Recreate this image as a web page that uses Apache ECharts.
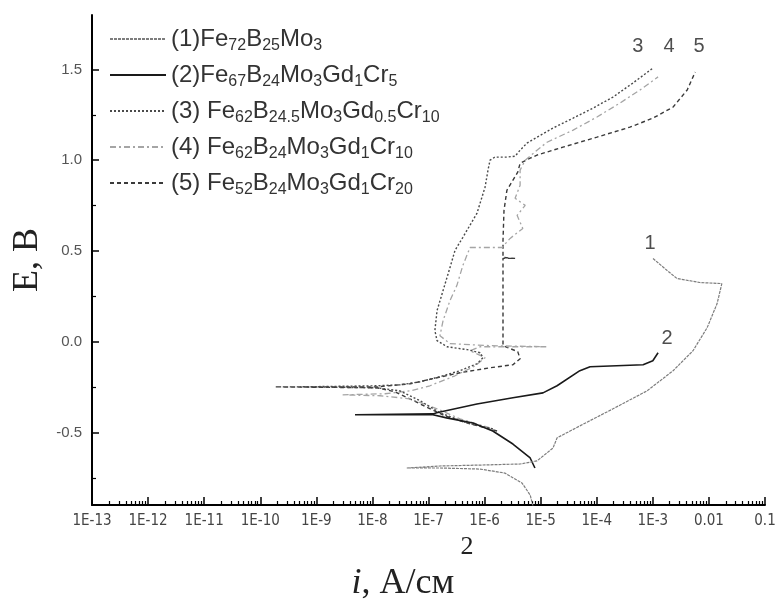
<!DOCTYPE html>
<html><head><meta charset="utf-8">
<script src="https://cdn.jsdelivr.net/npm/echarts@6/dist/echarts.min.js"></script>
<style>html,body{margin:0;padding:0;background:#fff}#c{width:778px;height:600px}</style>
</head><body><div id="c"></div>
<script>
// ---- axis ticks ----
const xTickExponents = [-13,-12,-11,-10,-9,-8,-7,-6,-5,-4,-3,-2,-1];
const xTickLabels = ['1E-13','1E-12','1E-11','1E-10','1E-9','1E-8','1E-7','1E-6','1E-5','1E-4','1E-3','0.01','0.1'];
const yTickValues = [-0.5, 0, 0.5, 1.0, 1.5];
const yTickLabels = ['-0.5','0.0','0.5','1.0','1.5'];
const yMinorTicks = [-0.75, -0.25, 0.25, 0.75, 1.25];

// ---- series names ----
const seriesNames = ['(1)Fe72B25Mo3','(2)Fe67B24Mo3Gd1Cr5','(3) Fe62B24.5Mo3Gd0.5Cr10','(4) Fe62B24Mo3Gd1Cr10','(5) Fe52B24Mo3Gd1Cr20'];
const legendRich = [
  '(1)Fe{s|72}B{s|25}Mo{s|3}',
  '(2)Fe{s|67}B{s|24}Mo{s|3}Gd{s|1}Cr{s|5}',
  '(3) Fe{s|62}B{s|24.5}Mo{s|3}Gd{s|0.5}Cr{s|10}',
  '(4) Fe{s|62}B{s|24}Mo{s|3}Gd{s|1}Cr{s|10}',
  '(5) Fe{s|52}B{s|24}Mo{s|3}Gd{s|1}Cr{s|20}'
];

// ---- curve 1 : current density (A/cm2), potential (V) ----
const c1_i = [7.3e-6,6.5e-6,4.65e-6,2.3e-6,8.3e-7,1.6e-7,4.1e-8,1.6e-7,8.3e-7,4.3e-6,8.6e-6,1.66e-5,1.96e-5,5.0e-5,1.95e-4,7.9e-4,2.3e-3,5.2e-3,9.3e-3,1.4e-2,1.7e-2,6.9e-3,2.7e-3,1.8e-3,1.0e-3];
const c1_E = [-0.906,-0.845,-0.779,-0.724,-0.702,-0.696,-0.696,-0.685,-0.680,-0.674,-0.657,-0.586,-0.530,-0.464,-0.370,-0.271,-0.160,-0.050,0.077,0.210,0.320,0.326,0.348,0.392,0.459];

// ---- curve 2 ----
const c2_i = [7.9e-6,6.5e-6,3.2e-6,1.4e-6,6.2e-7,2.1e-7,1.2e-7,4.9e-9,1.2e-7,1.4e-7,7.3e-7,3.2e-6,1.1e-5,1.96e-5,5.0e-5,7.6e-5,6.7e-4,1.0e-3,1.24e-3];
const c2_E = [-0.696,-0.641,-0.564,-0.492,-0.448,-0.420,-0.403,-0.403,-0.398,-0.392,-0.343,-0.309,-0.282,-0.243,-0.160,-0.138,-0.127,-0.105,-0.061];

// ---- curve 3 ----
const c3_i = [1.41e-6,4.9e-7,1.6e-7,7.1e-8,3.1e-8,1.21e-8,5.1e-10,1.21e-8,3.1e-8,7.1e-8,1.6e-7,3.65e-7,7.3e-7,9.4e-7,8.3e-7,4.9e-7,2.14e-7,1.42e-7,1.3e-7,1.42e-7,1.82e-7,2.42e-7,2.97e-7,4.1e-7,7.3e-7,1.02e-6,1.15e-6,1.25e-6,1.53e-6,2.5e-6,3.5e-6,4.3e-6,5.7e-6,8.6e-6,1.66e-5,3.8e-5,8.6e-5,1.95e-4,4.4e-4,1.01e-3];
const c3_E = [-0.481,-0.448,-0.392,-0.326,-0.271,-0.254,-0.249,-0.243,-0.238,-0.221,-0.193,-0.160,-0.122,-0.088,-0.061,-0.044,-0.028,0.006,0.061,0.171,0.282,0.409,0.503,0.575,0.707,0.851,0.945,1.000,1.017,1.017,1.022,1.055,1.094,1.127,1.177,1.232,1.287,1.348,1.425,1.508];

// ---- curve 4 ----
const c4_i = [1.25e-6,3.65e-7,1.42e-7,4.7e-8,1.37e-8,2.87e-9,1.68e-8,4.7e-8,1.06e-7,2.97e-7,6.8e-7,1.02e-6,5.5e-7,8.3e-7,1.3e-5,1.25e-6,2.42e-7,1.6e-7,1.82e-7,2.42e-7,3.2e-7,4.1e-7,5.5e-7,2.05e-6,2.85e-6,4.8e-6,3.8e-6,5.3e-6,3.5e-6,4.3e-6,4.3e-6,5.3e-6,8.6e-6,1.3e-5,3.8e-5,1.01e-4,2.6e-4,5.9e-4,1.24e-3];
const c4_E = [-0.475,-0.425,-0.370,-0.315,-0.298,-0.293,-0.287,-0.271,-0.243,-0.188,-0.133,-0.088,-0.050,-0.028,-0.028,-0.022,-0.011,0.033,0.116,0.227,0.309,0.420,0.519,0.519,0.569,0.624,0.696,0.751,0.790,0.862,0.945,1.000,1.055,1.099,1.166,1.238,1.315,1.387,1.459];

// ---- curve 5 ----
const c5_i = [1.67e-6,5.5e-7,1.97e-7,7.1e-8,2.5e-8,1.21e-8,1.83e-10,1.21e-8,4.7e-8,1.2e-7,3.65e-7,1.25e-6,3.2e-6,4.3e-6,3.9e-6,2.13e-6,2.13e-6,2.13e-6,2.13e-6,3.5e-6,2.13e-6,2.13e-6,2.22e-6,2.5e-6,3.9e-6,4.3e-6,6.5e-6,8.6e-6,2.5e-5,1.01e-4,3.9e-4,1.01e-3,2.3e-3,4.1e-3,5.7e-3];
const c5_E = [-0.492,-0.453,-0.409,-0.343,-0.276,-0.254,-0.249,-0.249,-0.232,-0.204,-0.171,-0.144,-0.127,-0.094,-0.055,-0.022,0.061,0.227,0.459,0.459,0.464,0.558,0.724,0.834,0.934,0.983,1.011,1.028,1.072,1.127,1.182,1.232,1.293,1.387,1.486];

// ---- curve number annotations ----
const curveLabels = ['1','2','3','4','5'];
const curveLabel_i = [8.9e-4, 1.8e-3, 5.4e-4, 1.95e-3, 6.7e-3];
const curveLabel_E = [0.541, 0.017, 1.624, 1.624, 1.624];

const toXY = (I, E) => I.map((v, k) => [Math.log10(v), E[k]]);

const xMinor = [];
for (let d = -13; d <= -2; d++) for (let k = 2; k <= 9; k++) xMinor.push(d + Math.log10(k));

const sans = "'Liberation Sans', Arial, sans-serif";
const narrow = "'Liberation Sans Narrow', 'Arial Narrow', 'DejaVu Sans Condensed', sans-serif";
const serif = "'Liberation Serif', 'Times New Roman', serif";

const styles = [
  {color: '#7d7d7d', width: 1.2, type: [3, 1]},
  {color: '#1a1a1a', width: 1.6, type: 'solid'},
  {color: '#4a4a4a', width: 1.4, type: [2, 2]},
  {color: '#a5a5a5', width: 1.3, type: [6, 3, 2, 3]},
  {color: '#3a3a3a', width: 1.4, type: [4, 3]}
];
const datas = [toXY(c1_i, c1_E), toXY(c2_i, c2_E), toXY(c3_i, c3_E), toXY(c4_i, c4_E), toXY(c5_i, c5_E)];

const series = seriesNames.map((n, k) => ({
  name: n, type: 'line', data: datas[k], symbol: 'none', showSymbol: false,
  lineStyle: styles[k], itemStyle: {color: styles[k].color}, z: 5 - k + 2, animation: false
}));
series.push({
  name: 'labels', type: 'scatter', symbolSize: 0, animation: false,
  data: curveLabels.map((t, k) => [Math.log10(curveLabel_i[k]), curveLabel_E[k], t]),
  label: {show: true, position: 'inside', formatter: p => p.data[2], fontSize: 20, color: '#222', fontFamily: sans}
});

const chart = echarts.init(document.getElementById('c'), null, {renderer: 'canvas'});
chart.setOption({
  backgroundColor: '#fff',
  animation: false,
  grid: {left: 92, right: 13, top: 15, bottom: 95, containLabel: false, outerBoundsMode: 'none'},
  legend: {
    data: seriesNames, orient: 'vertical', left: 109, top: 24, padding: 0,
    itemWidth: 56, itemHeight: 14, itemGap: 6,
    itemStyle: {opacity: 0},
    formatter: name => legendRich[seriesNames.indexOf(name)],
    textStyle: {fontSize: 24, fontFamily: sans, color: '#333', lineHeight: 30,
      rich: {s: {fontSize: 16, lineHeight: 15, verticalAlign: 'bottom', color: '#333', fontFamily: sans}}}
  },
  xAxis: [{
    type: 'value', position: 'bottom', min: -13, max: -1, interval: 1,
    axisLine: {show: true, onZero: false, lineStyle: {color: '#000', width: 2}},
    axisTick: {show: true, inside: true, length: 8, lineStyle: {color: '#000', width: 1.5}, customValues: xTickExponents},
    axisLabel: {show: true, margin: 9, fontSize: 15, fontFamily: narrow, color: '#444', customValues: xTickExponents,
      formatter: v => xTickLabels[Math.round(v) + 13]},
    splitLine: {show: false},
    name: '{it|i}{n|, A/см}{sup|2}', nameLocation: 'middle', nameGap: 28,
    nameTextStyle: {fontFamily: serif, fontSize: 36, color: '#222', lineHeight: 100, padding: [0, 32, 0, 0],
      rich: {it: {fontStyle: 'italic', fontFamily: serif, fontSize: 36, color: '#222', lineHeight: 100},
             n: {fontFamily: serif, fontSize: 36, color: '#222', lineHeight: 100},
             sup: {fontFamily: serif, fontSize: 26, color: '#222', lineHeight: 30, verticalAlign: 'top', padding: [0, 0, 0, 6]}}}
  }, {
    type: 'value', position: 'bottom', min: -13, max: -1, interval: 1,
    axisLine: {show: false, onZero: false}, axisLabel: {show: false}, splitLine: {show: false},
    axisTick: {show: true, inside: true, length: 4, lineStyle: {color: '#000', width: 1.2}, customValues: xMinor}
  }],
  yAxis: [{
    type: 'value', position: 'left', min: -0.9, max: 1.8,
    axisLine: {show: true, onZero: false, lineStyle: {color: '#000', width: 2}},
    axisTick: {show: true, inside: true, length: 7, lineStyle: {color: '#000', width: 1.5}, customValues: yTickValues},
    axisLabel: {show: true, margin: 10, fontSize: 15, fontFamily: sans, color: '#555', customValues: yTickValues,
      formatter: v => yTickLabels[yTickValues.findIndex(t => Math.abs(t - v) < 1e-6)] || ''},
    splitLine: {show: false},
    name: 'E, B', nameLocation: 'middle', nameGap: 30,
    nameTextStyle: {fontFamily: serif, fontSize: 36, color: '#222'}
  }, {
    type: 'value', position: 'left', min: -0.9, max: 1.8,
    axisLine: {show: false, onZero: false}, axisLabel: {show: false}, splitLine: {show: false},
    axisTick: {show: true, inside: true, length: 4, lineStyle: {color: '#000', width: 1.2}, customValues: yMinorTicks}
  }],
  series: series
});
</script>
</body></html>
